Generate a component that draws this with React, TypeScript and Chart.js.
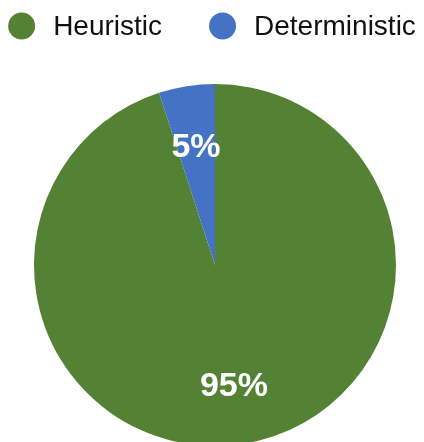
import React, { useEffect, useRef } from "react";
import { Chart, registerables } from "chart.js";

Chart.register(...registerables);

const categories = ["Heuristic", "Deterministic"];
const values = [95, 5];
const valueLabels = ["95%", "5%"];
const colors = ["#548235", "#4472C4"];

const FONT = "'Liberation Sans', Arial, Helvetica, sans-serif";

const sliceLabelPlugin = {
  id: "sliceLabels",
  afterDatasetsDraw(chart: any) {
    const { ctx } = chart;
    const meta = chart.getDatasetMeta(0);
    ctx.save();
    ctx.fillStyle = "#ffffff";
    ctx.font = `bold 34px ${FONT}`;
    ctx.textAlign = "center";
    ctx.textBaseline = "middle";
    meta.data.forEach((arc: any, i: number) => {
      const { x, y, startAngle, endAngle, outerRadius } = arc.getProps(
        ["x", "y", "startAngle", "endAngle", "outerRadius"],
        true
      );
      const mid = (startAngle + endAngle) / 2;
      const r = outerRadius * 0.67;
      ctx.fillText(valueLabels[i], x + Math.cos(mid) * r, y + Math.sin(mid) * r + 2);
    });
    ctx.restore();
  },
};

const legendPlugin = {
  id: "topLegend",
  afterDraw(chart: any) {
    const { ctx, width } = chart;
    const fontSize = 28;
    const dot = 13.5;
    const dotGap = 18;
    const itemGap = 47;
    const cy = 26;
    ctx.save();
    ctx.font = `${fontSize}px ${FONT}`;
    const widths = categories.map(
      (c) => dot * 2 + dotGap + ctx.measureText(c).width
    );
    const total = widths.reduce((a, b) => a + b, 0) + itemGap * (categories.length - 1);
    let x = (width - total) / 2;
    categories.forEach((c, i) => {
      ctx.fillStyle = colors[i];
      ctx.beginPath();
      ctx.arc(x + dot, cy, dot, 0, Math.PI * 2);
      ctx.fill();
      ctx.fillStyle = "#111111";
      ctx.textAlign = "left";
      ctx.textBaseline = "middle";
      ctx.fillText(c, x + dot * 2 + dotGap, cy + 1);
      x += widths[i] + itemGap;
    });
    ctx.restore();
  },
};

export default function App() {
  const ref = useRef<HTMLCanvasElement>(null);
  useEffect(() => {
    if (!ref.current) return;
    const chart = new Chart(ref.current, {
      type: "pie",
      data: {
        labels: categories,
        datasets: [
          {
            data: values,
            backgroundColor: colors,
            borderWidth: 0,
            hoverOffset: 0,
          },
        ],
      },
      options: {
        responsive: false,
        animation: false,
        layout: { padding: { top: 84, bottom: 0, left: 34, right: 28 } },
        plugins: {
          legend: { display: false },
          tooltip: { enabled: false },
        },
      },
      plugins: [sliceLabelPlugin, legendPlugin],
    });
    return () => chart.destroy();
  }, []);
  return (
    <div
      style={{
        position: "absolute",
        left: 0,
        top: 0,
        width: 424,
        height: 442,
        overflow: "hidden",
        background: "#fff",
      }}
    >
      <canvas ref={ref} width={424} height={446} style={{ display: "block" }} />
    </div>
  );
}
